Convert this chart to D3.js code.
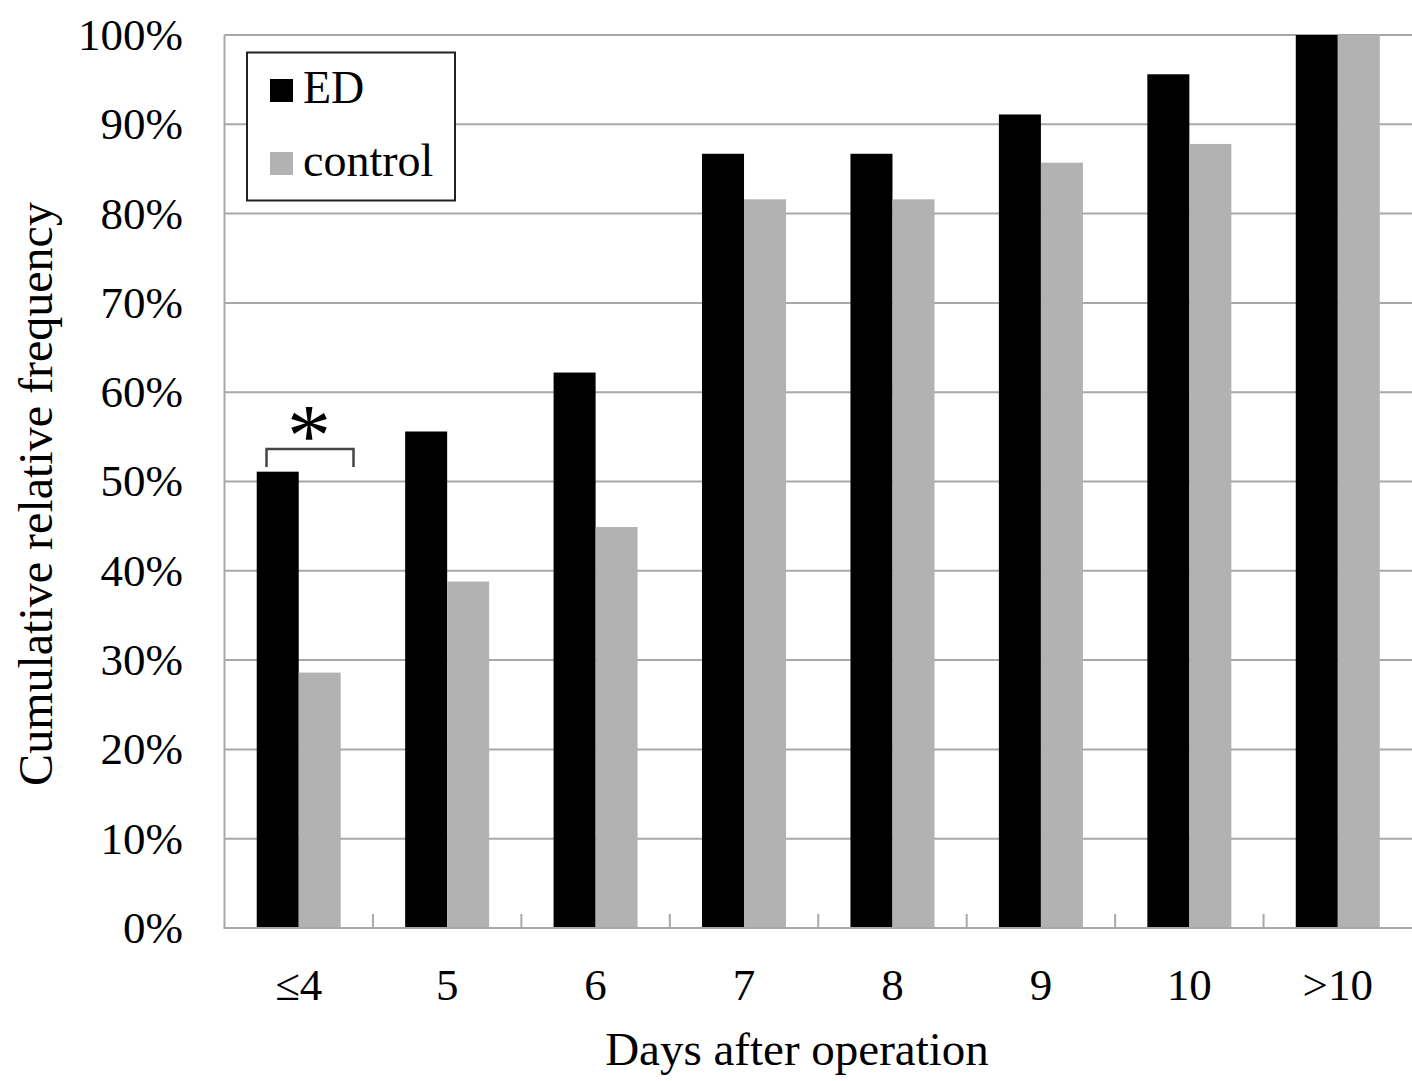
<!DOCTYPE html>
<html>
<head>
<meta charset="utf-8">
<script src="https://cdn.jsdelivr.net/npm/d3@7/dist/d3.min.js"></script>
<style>
  html, body { margin: 0; padding: 0; background: #fff; }
  svg { display: block; }
  text { font-family: "Liberation Serif", "Times New Roman", serif; fill: #000; }
</style>
</head>
<body>
<svg id="chart" width="1412" height="1081"></svg>
<script>
const categories = ["≤4", "5", "6", "7", "8", "9", "10", ">10"];
const seriesNames = ["ED", "control"];
const edValues = [51.1, 55.6, 62.2, 86.7, 86.7, 91.1, 95.6, 100];
const controlValues = [28.6, 38.8, 44.9, 81.6, 81.6, 85.7, 87.8, 100];
const yTicks = [0, 10, 20, 30, 40, 50, 60, 70, 80, 90, 100];
const colors = { ED: "#000000", control: "#b2b2b2" };

(function () {
const svg = d3.select("#chart");
const pLeft = 224.5, pRight = 1412, pTop = 35, pBottom = 928;
const gridColor = "#a8a8a8";

const x = d3.scaleBand().domain(categories).range([pLeft, pRight]).paddingInner(0).paddingOuter(0);
const xs = d3.scaleBand().domain(seriesNames).range([0, x.bandwidth()]).paddingInner(0).paddingOuter(0.767);
const y = d3.scaleLinear().domain([0, 100]).range([pBottom, pTop]);

// gridlines
svg.append("g").selectAll("line").data(yTicks.filter(d => d > 0)).join("line")
  .attr("x1", pLeft).attr("x2", pRight)
  .attr("y1", d => y(d)).attr("y2", d => y(d))
  .attr("stroke", gridColor).attr("stroke-width", 2);

// bars
const rows = categories.map((c, i) => ({ cat: c, ED: edValues[i], control: controlValues[i] }));
const g = svg.append("g").selectAll("g").data(rows).join("g")
  .attr("transform", d => `translate(${x(d.cat)},0)`);
g.selectAll("rect").data(d => seriesNames.map(s => ({ s, v: d[s] }))).join("rect")
  .attr("x", d => xs(d.s)).attr("width", xs.bandwidth())
  .attr("y", d => y(d.v)).attr("height", d => y(0) - y(d.v))
  .attr("fill", d => colors[d.s]);

// y axis line
svg.append("line").attr("x1", pLeft).attr("x2", pLeft).attr("y1", pTop).attr("y2", pBottom)
  .attr("stroke", gridColor).attr("stroke-width", 2);
// x axis line
svg.append("line").attr("x1", pLeft - 1).attr("x2", pRight).attr("y1", pBottom).attr("y2", pBottom)
  .attr("stroke", gridColor).attr("stroke-width", 2);
// x category separators (inward ticks)
svg.append("g").selectAll("line").data(categories.slice(1)).join("line")
  .attr("x1", d => x(d)).attr("x2", d => x(d))
  .attr("y1", pBottom).attr("y2", pBottom - 14)
  .attr("stroke", gridColor).attr("stroke-width", 2);

// y axis labels
const yAxis = svg.append("g").attr("transform", `translate(${pLeft},0)`)
  .call(d3.axisLeft(y).tickValues(yTicks).tickFormat(d => d + "%").tickSize(0).tickPadding(41.5));
yAxis.select(".domain").remove();
yAxis.selectAll("text").attr("font-size", 45).attr("font-family", '"Liberation Serif", serif').attr("fill", "#000");

// x axis labels
const xAxis = svg.append("g").attr("transform", `translate(0,${pBottom})`)
  .call(d3.axisBottom(x).tickSize(0).tickPadding(40));
xAxis.select(".domain").remove();
xAxis.selectAll("text").attr("font-size", 45).attr("font-family", '"Liberation Serif", serif').attr("fill", "#000");

// axis titles
svg.append("text").attr("x", 797).attr("y", 1065).attr("text-anchor", "middle")
  .attr("font-size", 47).text("Days after operation");
svg.append("text").attr("transform", "translate(52,494) rotate(-90)").attr("text-anchor", "middle")
  .attr("font-size", 48).text("Cumulative relative frequency");

// legend
const lg = svg.append("g");
lg.append("rect").attr("x", 247).attr("y", 52.5).attr("width", 208).attr("height", 148)
  .attr("fill", "#fff").attr("stroke", "#222").attr("stroke-width", 2);
seriesNames.forEach((s, i) => {
  lg.append("rect").attr("x", 270).attr("y", 79 + i * 73).attr("width", 23).attr("height", 23).attr("fill", colors[s]);
  lg.append("text").attr("x", 303).attr("y", 103 + i * 73).attr("font-size", 46).text(s);
});

// significance bracket
const bx1 = x(categories[0]) + 42, bx2 = x(categories[0]) + 129;
svg.append("path").attr("d", `M${bx1},467 V449 H${bx2} V467`)
  .attr("fill", "none").attr("stroke", "#444").attr("stroke-width", 2.5);
svg.append("text").attr("x", (bx1 + bx2) / 2 - 1).attr("y", 465).attr("text-anchor", "middle")
  .attr("font-size", 88).text("*");
})();
</script>
</body>
</html>
